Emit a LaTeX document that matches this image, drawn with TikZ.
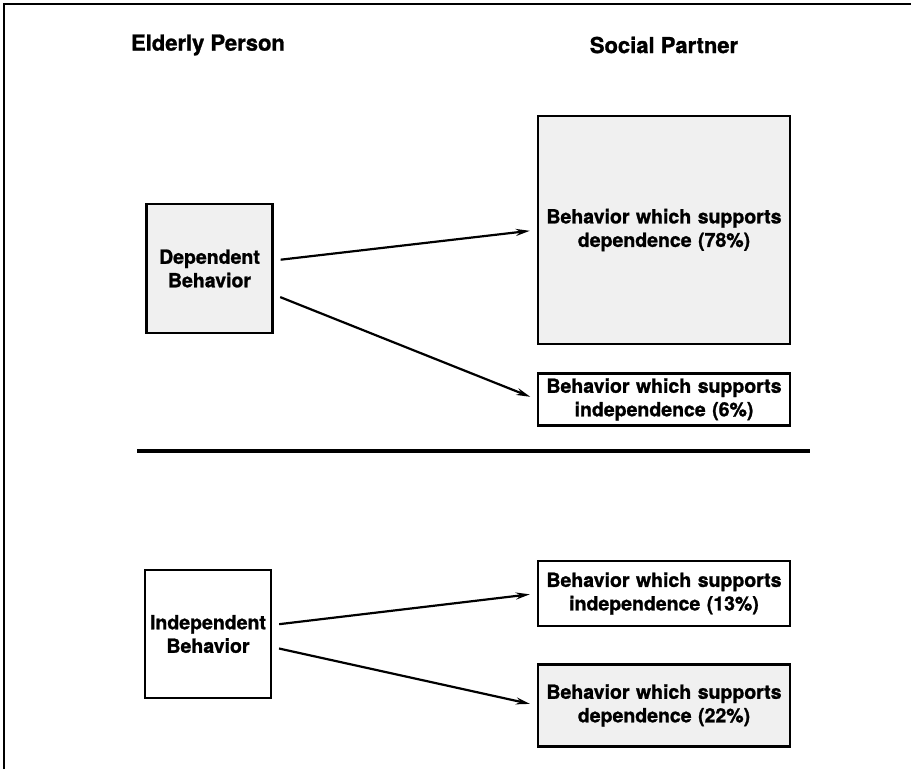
\documentclass[tikz,border=0pt]{standalone}
\usepackage{fontspec}
\setmainfont[BoldFeatures={FakeBold=1.2}]{TeX Gyre Heros}
\usetikzlibrary{arrows.meta, positioning}

\begin{document}
\begin{tikzpicture}[
    x=1pt, y=1pt,
    node distance=27pt, % vertical spacing between the partner boxes
    heading/.style={font=\bfseries\fontsize{22}{26}\selectfont},
    personbox/.style={rectangle, draw, line width=2.4pt, align=center, inner sep=3pt, text width=120pt, font=\bfseries\fontsize{19.5}{23.5}\selectfont},
    partnerbox/.style={personbox, text width=246pt},
    shaded/.style={fill=black!6},
    arrow/.style={-{Stealth[length=14pt, width=7pt]}, line width=2.2pt, shorten <=7pt, shorten >=7pt}
]
\useasboundingbox (0,0) rectangle (911,-769);

% Frame
\draw[line width=1.5pt] (4,-769) -- (4,-4) -- (911,-4);

% Column headings
\node[heading] (elderly) at (208,-45) {Elderly Person};
\node[heading] (social) at (664,-45) {Social Partner};

% Dependent behavior
\node[personbox, shaded, minimum height=129pt] (dep) at (209.5,-268.5) {Dependent\\Behavior};
\node[partnerbox, shaded, minimum height=228pt] (depdep) at (664,-230) {Behavior which supports\\dependence (78\%)};
\node[partnerbox, minimum height=52pt, below=of depdep] (depind) {Behavior which supports\\independence (6\%)};

% Divider
\coordinate (divleft) at (137,-451);
\coordinate (divright) at (810,-451);
\draw[line width=3.2pt] (divleft) -- (divright);

% Independent behavior
\node[personbox, minimum height=128pt] (ind) at (208,-634) {Independent\\Behavior};
\node[partnerbox, minimum height=65pt] (indind) at (664,-593.5) {Behavior which supports\\independence (13\%)};
\node[partnerbox, shaded, minimum height=82pt, below=36pt of indind] (inddep) {Behavior which supports\\dependence (22\%)};

% Arrows
\draw[arrow] ([yshift=8pt]dep.east) -- (depdep.west);
\draw[arrow] ([yshift=-26pt]dep.east) -- (depind.west);
\draw[arrow] ([yshift=9pt]ind.east) -- (indind.west);
\draw[arrow] ([yshift=-13pt]ind.east) -- (inddep.west);

\end{tikzpicture}
\end{document}
